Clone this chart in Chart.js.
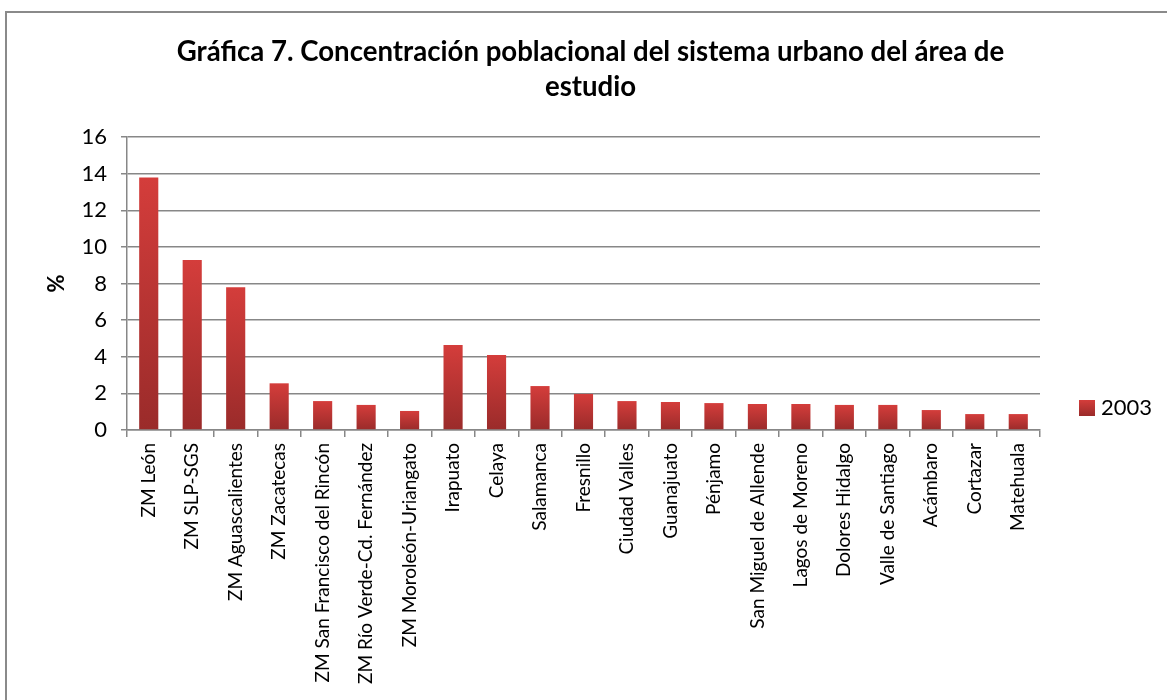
<!DOCTYPE html>
<html>
<head>
<meta charset="utf-8">
<script src="https://cdn.jsdelivr.net/npm/chart.js@4"></script>
<style>
  html, body { margin: 0; padding: 0; background: #fff; }
  #wrap { position: relative; width: 1167px; height: 700px; overflow: hidden; }
  #frame { position: absolute; left: 5px; top: 11px; width: 1200px; height: 800px; border-left: 2px solid #8a8a8a; border-top: 2px solid #8a8a8a; box-sizing: border-box; }
  canvas { position: absolute; left: 0; top: 0; }
</style>
</head>
<body>
<div id="wrap">
  <div id="frame"></div>
  <canvas id="c" width="1167" height="700"></canvas>
</div>
<script>
const categories = [
  "ZM León", "ZM SLP-SGS", "ZM Aguascalientes", "ZM Zacatecas",
  "ZM San Francisco del Rincón", "ZM Río Verde-Cd. Fernández",
  "ZM Moroleón-Uriangato", "Irapuato", "Celaya", "Salamanca", "Fresnillo",
  "Ciudad Valles", "Guanajuato", "Pénjamo", "San Miguel de Allende",
  "Lagos de Moreno", "Dolores Hidalgo", "Valle de Santiago", "Acámbaro",
  "Cortazar", "Matehuala"
];
const values2003 = [13.8, 9.28, 7.8, 2.55, 1.58, 1.37, 1.04, 4.64, 4.1, 2.4, 1.97,
  1.58, 1.53, 1.47, 1.42, 1.42, 1.37, 1.37, 1.09, 0.87, 0.87];
const seriesName = "2003";
const yTicks = [0, 2, 4, 6, 8, 10, 12, 14, 16];
const titleLines = ["Gráfica 7. Concentración poblacional del sistema urbano del área de", "estudio"];
const yTitle = "%";

const FONT = "Lato, 'Open Sans', sans-serif";
const GRID = "#878787";

function barGradient(ctx) {
  const chart = ctx.chart;
  const ys = chart.scales && chart.scales.y;
  if (!chart.chartArea || !ys || ctx.raw == null) return "#c0393a";
  const top = ys.getPixelForValue(ctx.raw);
  const bottom = ys.getPixelForValue(0);
  if (!isFinite(top) || !isFinite(bottom) || bottom - top < 1) return "#c0393a";
  const g = chart.ctx.createLinearGradient(0, top, 0, bottom);
  g.addColorStop(0, "#d43d3b");
  g.addColorStop(1, "#9a2b2a");
  return g;
}

const legendPlugin = {
  id: "sideLegend",
  afterDraw(chart) {
    const c = chart.ctx;
    const area = chart.chartArea;
    const x = area.right + 39, y = 400;
    const g = c.createLinearGradient(0, y, 0, y + 16);
    g.addColorStop(0, "#d43d3b");
    g.addColorStop(1, "#9a2b2a");
    c.save();
    c.fillStyle = g;
    c.fillRect(x, y, 16, 16);
    c.fillStyle = "#000";
    c.font = "22px " + FONT;
    c.textBaseline = "middle";
    c.fillText(seriesName, x + 22, y + 8);
    c.restore();
  }
};

new Chart(document.getElementById("c"), {
  type: "bar",
  data: {
    labels: categories,
    datasets: [{
      label: seriesName,
      data: values2003,
      backgroundColor: barGradient,
      borderWidth: 0,
      barPercentage: 0.44,
      categoryPercentage: 1
    }]
  },
  options: {
    responsive: false,
    animation: false,
    layout: { padding: { left: 14, right: 0, top: 0, bottom: 0 } },
    plugins: {
      legend: { display: false },
      tooltip: { enabled: false },
      title: {
        display: true,
        text: titleLines,
        color: "#000",
        font: { family: FONT, size: 27.6, weight: "bold", lineHeight: 1.27 },
        padding: { top: 35, bottom: 32 }
      }
    },
    scales: {
      x: {
        offset: true,
        grid: { display: true, drawOnChartArea: false, offset: true, color: GRID, lineWidth: 1.5, tickLength: 7 },
        border: { color: GRID, width: 1.5 },
        ticks: { color: "#000", font: { family: FONT, size: 19 }, maxRotation: 90, minRotation: 90, padding: 6, autoSkip: false },
        afterFit(scale) { scale.height = 270; }
      },
      y: {
        min: 0, max: 16,
        afterBuildTicks(scale) { scale.ticks = yTicks.map(v => ({ value: v })); },
        grid: { color: GRID, lineWidth: 1.5, tickLength: 6 },
        border: { color: GRID, width: 1.5 },
        ticks: { color: "#000", font: { family: FONT, size: 22 }, padding: 14 },
        title: { display: true, text: yTitle, color: "#000", font: { family: FONT, size: 22, weight: "bold" }, padding: { top: 30 } },
        afterFit(scale) { scale.width = 113; }
      },
      spacer: {
        position: "right",
        type: "linear",
        display: true,
        grid: { display: false },
        border: { display: false },
        ticks: { display: false },
        afterFit(scale) { scale.width = 127; }
      }
    }
  },
  plugins: [legendPlugin]
});
</script>
</body>
</html>
